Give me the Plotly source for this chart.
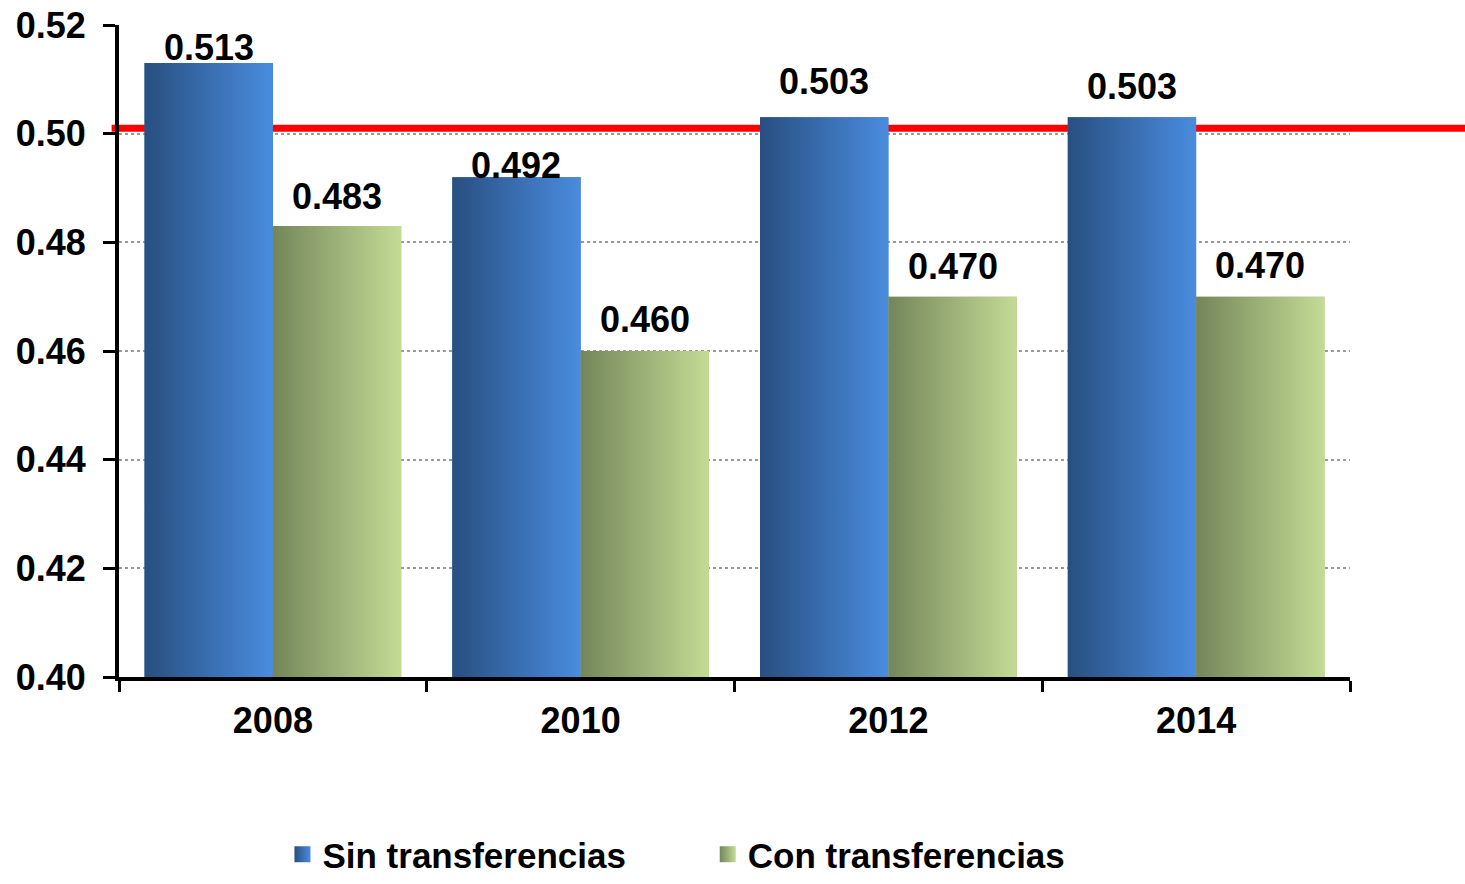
import plotly.graph_objects as go

# ---- data ----
years = ["2008", "2010", "2012", "2014"]
sin_transf = [0.513, 0.492, 0.503, 0.503]
con_transf = [0.483, 0.460, 0.470, 0.470]
series_names = ["Sin transferencias", "Con transferencias"]
reference_value = 0.501
y_ticks = [0.40, 0.42, 0.44, 0.46, 0.48, 0.50, 0.52]

# ---- style ----
Y_MIN, Y_MAX = 0.40, 0.52
BAR_W = 0.417
FIG_W, FIG_H = 1465, 884
FONT = dict(family="Liberation Sans, Arial, sans-serif", size=36, color="black", weight="bold")
LEG_FONT = dict(FONT, size=35)
blue_grad = [[0, "#284F80"], [1, "#4A8CDF"]]
green_grad = [[0, "#74865A"], [1, "#C4DB95"]]
grads = [blue_grad, green_grad]
solid = ["#3A6EB0", "#9DB077"]
# vertical nudges (px) of the value labels above bar tops
label_nudge = [[16, 12, 36, 31], [30, 32, 30, 31]]
legend_x = [0.1928, 0.4831]

xs = list(range(len(years)))
fig = go.Figure()

all_series = [sin_transf, con_transf]
offsets = [-BAR_W, 0.0]

for s, vals in enumerate(all_series):
    fig.add_trace(go.Bar(
        x=xs, y=[v - Y_MIN for v in vals], base=Y_MIN, width=BAR_W, offset=offsets[s],
        name=series_names[s], marker=dict(color=solid[s], line=dict(width=0)),
        showlegend=False, hoverinfo="skip",
    ))

for s, vals in enumerate(all_series):
    for i, v in enumerate(vals):
        x0 = xs[i] + offsets[s]
        x1 = x0 + BAR_W
        fig.add_trace(go.Scatter(
            x=[x0, x1, x1, x0, x0], y=[Y_MIN, Y_MIN, v, v, Y_MIN],
            mode="lines", line=dict(width=0), fill="toself",
            fillgradient=dict(type="horizontal", colorscale=grads[s]),
            showlegend=False, hoverinfo="skip",
        ))

# legend entries (one legend per series so the spacing can match)
for s in range(2):
    fig.add_trace(go.Scatter(
        x=[None], y=[None], mode="markers", name=series_names[s],
        marker=dict(symbol="square", size=18, color=grads[s][0][1],
                    gradient=dict(type="horizontal", color=grads[s][1][1]),
                    line=dict(width=0)),
        legend="legend" if s == 0 else "legend2", showlegend=True,
    ))

for s, vals in enumerate(all_series):
    for i, v in enumerate(vals):
        fig.add_annotation(
            x=xs[i] + offsets[s] + BAR_W / 2, y=v, text=f"{v:.3f}",
            showarrow=False, yanchor="middle", yshift=label_nudge[s][i],
            font=FONT,
        )

# red reference line (extends beyond the plot area to the right)
y_paper = (reference_value - Y_MIN) / (Y_MAX - Y_MIN)
fig.add_shape(type="line", xref="paper", yref="paper",
              x0=-0.006, x1=1.1, y0=y_paper, y1=y_paper,
              line=dict(color="#FF0000", width=7), layer="below")

legend_common = dict(orientation="h", xref="container", yref="container",
                     y=-0.0045, xanchor="left", yanchor="bottom",
                     font=LEG_FONT, itemwidth=30, itemsizing="trace",
                     bgcolor="rgba(0,0,0,0)", borderwidth=0)

fig.update_layout(
    width=FIG_W, height=FIG_H,
    margin=dict(l=119, r=115, t=25, b=207, autoexpand=False),
    paper_bgcolor="white", plot_bgcolor="rgba(0,0,0,0)",
    barmode="overlay",
    font=FONT,
    legend=dict(x=legend_x[0], **legend_common),
    legend2=dict(x=legend_x[1], **legend_common),
)

fig.update_xaxes(
    range=[-0.5, len(years) - 0.5], tickmode="array", tickvals=xs, ticktext=years,
    ticks="outside", ticklen=9, tickcolor="rgba(0,0,0,0)",
    showline=True, linewidth=4, linecolor="black", showgrid=False, zeroline=False,
    tickfont=FONT,
    minor=dict(tickmode="array", tickvals=[x - 0.5 for x in xs] + [xs[-1] + 0.5],
               ticks="outside", ticklen=11, tickwidth=3, tickcolor="black", showgrid=False),
)
fig.update_yaxes(
    range=[Y_MIN, Y_MAX], tickmode="array", tickvals=y_ticks, tickformat=".2f",
    ticks="outside", ticklen=12, tickwidth=3, tickcolor="black",
    ticklabelstandoff=10, ticklabeloverflow="allow",
    showline=True, linewidth=4, linecolor="black",
    showgrid=True, gridcolor="#9A9A9A", griddash="dot", gridwidth=1.5,
    zeroline=False, tickfont=FONT,
)

fig.write_html("out.html", config={"displayModeBar": False},
               post_script="document.body.style.margin='0';")
